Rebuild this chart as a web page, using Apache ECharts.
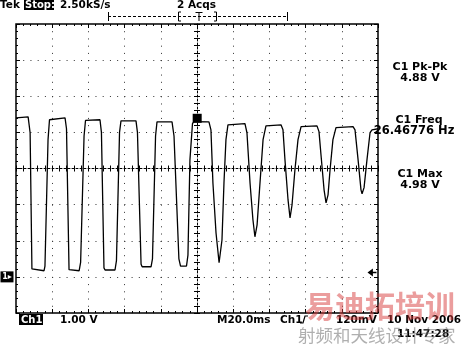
<!DOCTYPE html>
<html><head><meta charset="utf-8">
<script src="https://cdn.jsdelivr.net/npm/echarts@6/dist/echarts.min.js"></script>
<style>html,body{margin:0;padding:0;background:#fff}#c{width:461px;height:346px}</style>
</head><body><div id="c"></div>
<script>
// ---- data (time in ms, voltage in V) ----
const traceTimeMs = [-100.0,-93.3,-92.2,-91.2,-90.6,-84.5,-84.0,-82.3,-81.5,-80.5,-72.9,-72.1,-70.7,-70.1,-65.1,-64.3,-62.4,-61.6,-53.6,-52.8,-51.4,-50.8,-45.3,-44.5,-42.8,-42.0,-33.7,-32.9,-30.9,-30.3,-25.4,-24.6,-22.9,-22.1,-13.8,-12.7,-10.0,-9.1,-5.8,-5.0,-3.9,-2.5,-1.7,6.6,7.7,8.8,10.5,12.2,13.8,14.9,16.0,17.1,26.5,27.6,29.3,30.9,32.0,33.2,34.8,36.5,38.1,46.4,47.5,48.6,50.3,51.4,52.5,54.1,55.8,57.5,66.3,67.4,68.5,70.2,71.3,72.4,73.5,75.1,76.8,86.2,87.3,89.0,90.6,91.2,92.3,93.9,95.6,96.7,100.0];
const traceVolts = [4.40,4.43,3.99,0.22,0.17,0.17,0.30,3.80,4.35,4.40,4.40,4.10,0.20,0.15,0.17,0.40,3.90,4.33,4.35,4.00,0.25,0.19,0.19,0.45,4.00,4.32,4.32,4.00,0.35,0.28,0.28,0.50,3.90,4.29,4.29,3.90,0.50,0.30,0.30,0.60,3.24,4.24,4.30,4.29,4.07,2.60,1.22,0.39,1.02,2.60,3.80,4.21,4.24,3.99,2.60,1.58,1.11,1.44,2.60,3.80,4.18,4.21,4.07,3.24,2.13,1.63,1.99,2.96,3.80,4.16,4.18,4.02,3.38,2.41,2.05,2.27,2.96,3.80,4.13,4.16,4.07,3.24,2.41,2.30,2.47,3.24,3.99,4.07,4.10];
const xRangeMs = [-100, 100];
const xDivMs = 20;
const yRangeV = [-1, 7];
const yDivV = 1;
const triggerPoint = [0.1, 4.39];
const groundLevelV = 0;
const triggerLevelV = 0.12;
const measureNames = ['C1 Pk-Pk', 'C1 Freq', 'C1 Max'];
const measureValues = ['4.88 V', '26.46776 Hz', '4.98 V'];

const tracePoints = traceTimeMs.map((t, i) => [t, traceVolts[i]]);

const chart = echarts.init(document.getElementById('c'), null, {renderer: 'canvas'});
const F = '"DejaVu Sans", sans-serif';
const dotted = {type: [1, 6.225], color: '#333', width: 1};
const tick3 = {show: true, inside: true, length: 3, lineStyle: {color: '#000'}};
const minor3 = {show: true, splitNumber: 5, length: 3, lineStyle: {color: '#000'}};

function xAx(pos, offset, opts) {
  return Object.assign({
    type: 'value', min: xRangeMs[0], max: xRangeMs[1], interval: xDivMs,
    position: pos, offset: offset,
    axisLabel: {show: false},
    axisLine: {show: false, onZero: false},
    axisTick: {show: true, inside: true, length: 4, lineStyle: {color: '#000'}},
    minorTick: {show: true, splitNumber: 5, length: 2, lineStyle: {color: '#000'}},
    splitLine: {show: false}
  }, opts || {});
}
function yAx(pos, offset, opts) {
  return Object.assign({
    type: 'value', min: yRangeV[0], max: yRangeV[1], interval: yDivV,
    position: pos, offset: offset,
    axisLabel: {show: false},
    axisLine: {show: false, onZero: false},
    axisTick: {show: true, inside: true, length: 4, lineStyle: {color: '#000'}},
    minorTick: {show: true, splitNumber: 5, length: 2, lineStyle: {color: '#000'}},
    splitLine: {show: false}
  }, opts || {});
}

const txt = (text, x, y, extra) => ({
  type: 'text', z: 100,
  style: Object.assign({text, x, y, fill: '#000', font: 'bold 11px ' + F, textVerticalAlign: 'middle'}, extra || {})
});
const ln = (x1, y1, x2, y2, dash) => ({
  type: 'line', z: 100, shape: {x1, y1, x2, y2},
  style: {stroke: '#000', lineWidth: 1, lineDash: dash || null}
});

const graphics = [
  txt('Tek', 0, 5, {font: 'bold 10.5px ' + F}),
  {type: 'rect', z: 100, shape: {x: 24, y: 0, width: 30, height: 10}, style: {fill: '#000'}},
  txt('Stop:', 25, 5, {fill: '#fff', font: 'bold 10px ' + F}),
  txt('2.50kS/s', 60, 5, {font: 'bold 10.5px ' + F}),
  txt('2 Acqs', 177, 5, {font: 'bold 10.5px ' + F}),
  ln(108, 16.5, 287, 16.5, [3, 2]),
  ln(108.5, 12, 108.5, 21), ln(287.5, 12, 287.5, 21),
  ln(178.5, 12, 178.5, 21), ln(178.5, 12, 181, 12), ln(178.5, 21, 181, 21),
  ln(216.5, 12, 216.5, 21), ln(214, 12, 216.5, 12), ln(214, 21, 216.5, 21),
  ln(195.5, 12.5, 202.5, 12.5), ln(199, 12.5, 199, 21),
  // measurement panel
  txt(measureNames[0], 420, 67, {textAlign: 'center', font: 'bold 11px ' + F}),
  txt(measureValues[0], 420, 78, {textAlign: 'center', font: 'bold 11px ' + F}),
  txt(measureNames[1], 419, 120, {textAlign: 'center', font: 'bold 11px ' + F}),
  txt(measureValues[1], 414, 131, {textAlign: 'center', font: 'bold 11.5px ' + F}),
  txt(measureNames[2], 420, 174, {textAlign: 'center', font: 'bold 11px ' + F}),
  txt(measureValues[2], 420, 185, {textAlign: 'center', font: 'bold 11px ' + F}),
  // bottom status line
  {type: 'rect', z: 100, shape: {x: 19, y: 314, width: 24, height: 11}, style: {fill: '#000'}},
  txt('Ch1', 21, 320, {fill: '#fff', font: 'bold 10px ' + F}),
  txt('1.00 V', 60, 320, {font: 'bold 10.5px ' + F}),
  txt('M20.0ms', 217, 320, {font: 'bold 10.5px ' + F}),
  txt('Ch1', 280, 320, {font: 'bold 10.5px ' + F}),
  {type: 'polyline', z: 100, shape: {points: [[300, 323], [303, 323], [305, 316], [308, 316]]}, style: {stroke: '#000', lineWidth: 1.2, fill: null}},
  txt('120mV', 336, 320, {font: 'bold 10.5px ' + F}),
  txt('10 Nov 2006', 387, 320, {font: 'bold 10.5px ' + F}),
  txt('11:47:28', 397, 334, {font: 'bold 10.5px ' + F}),
  // watermark
  txt('易迪拓培训', 305, 306, {font: 'bold 30px "Noto Sans CJK SC"', fill: 'rgba(215,60,60,0.5)', z: 200}),
  txt('射频和天线设计专家', 298, 335, {font: '17.5px "Noto Sans CJK SC"', fill: 'rgba(110,110,110,0.55)'})
];

chart.setOption({
  animation: false,
  backgroundColor: '#fff',
  grid: {left: 16, top: 24, width: 362, height: 289, show: true, borderColor: '#000', borderWidth: 1.5, backgroundColor: 'transparent'},
  xAxis: [
    xAx('bottom', 0, {splitLine: {show: true, lineStyle: dotted}}),
    xAx('top', 0),
    xAx('bottom', -144.5, {axisLine: {show: true, onZero: false, lineStyle: {color: '#000', type: [2, 2]}}, axisTick: tick3, minorTick: minor3}),
    xAx('top', -144.5, {axisTick: tick3, minorTick: minor3})
  ],
  yAxis: [
    yAx('left', 0, {splitLine: {show: true, lineStyle: dotted}}),
    yAx('right', 0),
    yAx('left', -181, {axisLine: {show: true, onZero: false, lineStyle: {color: '#000', type: [2, 2]}}, axisTick: tick3, minorTick: minor3}),
    yAx('right', -181, {axisTick: tick3, minorTick: minor3})
  ],
  series: [{
    type: 'line', xAxisIndex: 0, yAxisIndex: 0,
    data: tracePoints, showSymbol: false, smooth: false,
    lineStyle: {color: '#000', width: 1.3},
    z: 10,
    markPoint: {
      silent: true,
      data: [
        {coord: triggerPoint, symbol: 'rect', symbolSize: [9, 9], itemStyle: {color: '#000'}, label: {show: false}},
        {coord: [xRangeMs[0], groundLevelV], symbol: 'rect', symbolSize: [13, 11], symbolOffset: [-9, 0], itemStyle: {color: '#000'},
          label: {show: true, position: 'inside', formatter: '1▸', color: '#fff', fontSize: 8, fontWeight: 'bold', fontFamily: 'DejaVu Sans'}},
        {coord: [xRangeMs[1], triggerLevelV], symbol: 'path://M0,5 L6,0 L6,4 L10,4 L10,6 L6,6 L6,10 Z', symbolSize: [9, 8], symbolOffset: [-6, 0], itemStyle: {color: '#000'}, label: {show: false}}
      ]
    }
  }],
  graphic: graphics
});
</script></body></html>
